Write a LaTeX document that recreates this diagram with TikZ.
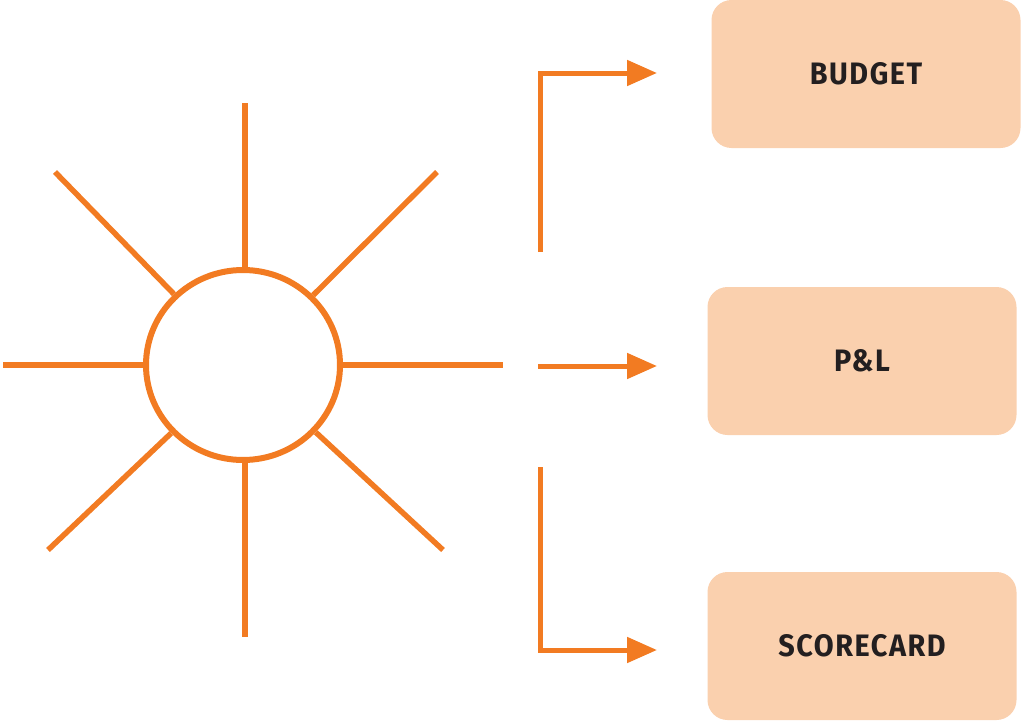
\documentclass[tikz,border=0pt]{standalone}
\usepackage{fontspec}
\setmainfont{Fira Sans}
\newfontfamily\boxfont[FakeStretch=0.93,LetterSpace=5]{Fira Sans Bold}
\usetikzlibrary{arrows.meta,shapes.geometric}
\definecolor{sunorange}{HTML}{F27B22}
\definecolor{boxfill}{HTML}{FAD0AE}
\definecolor{txt}{HTML}{231F20}
\tikzset{
  ray/.style={draw=sunorange, line width=5.5pt},
  flow/.style={draw=sunorange, line width=5pt, -{Triangle[length=30pt,width=25pt]}},
  outbox/.style={fill=boxfill, rounded corners=20pt, minimum width=309pt, minimum height=148pt,
    inner sep=0pt, font=\boxfont\fontsize{31}{31}\selectfont, text=txt},
}
\begin{document}
\begin{tikzpicture}[x=1pt,y=-1pt]
\useasboundingbox (0,0) rectangle (1025,720);
% sun
\node[ellipse, draw=sunorange, line width=6pt, minimum width=194pt, minimum height=190pt, inner sep=0pt] (sun) at (243,365) {};
\coordinate (rN) at (245,103);
\coordinate (rS) at (245,637);
\coordinate (rW) at (3,365);
\coordinate (rE) at (503,365);
\coordinate (rNW) at (55,172);
\coordinate (rNE) at (437,172);
\coordinate (rSW) at (48,550);
\coordinate (rSE) at (443,550);
\draw[ray] (sun.north -| rN) -- (rN);
\draw[ray] (sun.south -| rS) -- (rS);
\draw[ray] (sun) -- (rW);
\draw[ray] (sun) -- (rE);
\draw[ray] (sun) -- (rNW);
\draw[ray] (sun) -- (rNE);
\draw[ray] (sun) -- (rSW);
\draw[ray] (sun) -- (rSE);
% boxes
\node[outbox] (budget) at (866,74) {\raisebox{-1pt}{BUDGET}};
\node[outbox] (pl) at (862,361) {\raisebox{-1pt}{P\&L}};
\node[outbox] (score) at (862,646) {\raisebox{-4pt}{SCORECARD}};
% arrows
\coordinate (a1) at (540,252);
\coordinate (a2) at (538,366);
\coordinate (a3) at (540,467);
\coordinate (t1) at (657,73);
\coordinate (t2) at (657,366);
\coordinate (t3) at (657,650);
\draw[flow] (a1) |- (t1);
\draw[flow] (a2) -- (t2);
\draw[flow] (a3) |- (t3);
\end{tikzpicture}
\end{document}
